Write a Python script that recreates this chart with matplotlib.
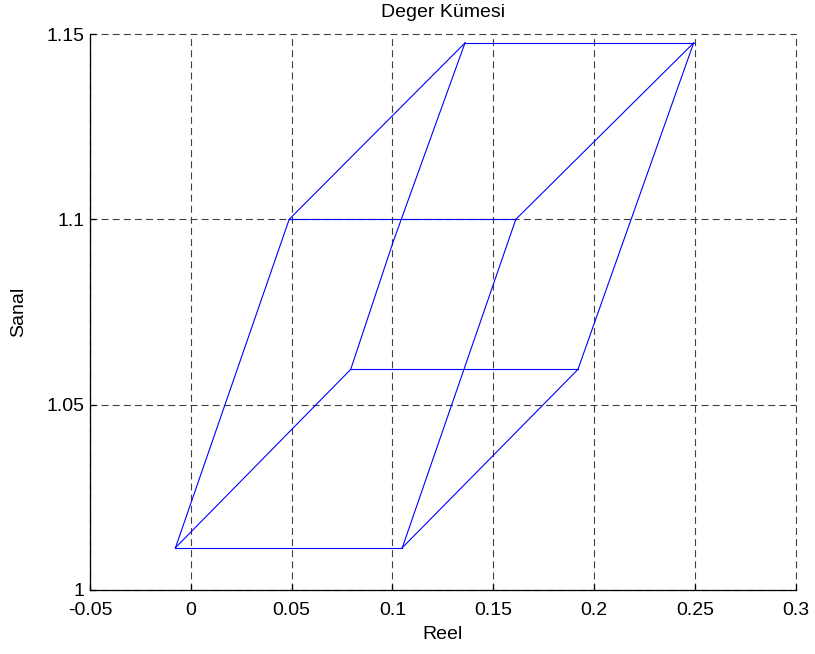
import matplotlib
matplotlib.use("Agg")
import matplotlib.pyplot as plt

plt.rcParams["font.family"] = ["Liberation Sans", "DejaVu Sans"]
plt.rcParams["lines.scale_dashes"] = False

# corner points of the value set
corner_x = {"A": -0.0076, "B": 0.1049, "C": 0.0793, "D": 0.1920,
            "E": 0.0488, "F": 0.1612, "G": 0.1360, "H": 0.2494}
corner_y = {"A": 1.0114, "B": 1.0114, "C": 1.0595, "D": 1.0595,
            "E": 1.1000, "F": 1.1000, "G": 1.1476, "H": 1.1476}

# small bend on the C-G edge
bend_cg_x = 0.1004
bend_cg_y = 1.0940

edges = [("A", "B"), ("C", "D"), ("E", "F"), ("G", "H"),
         ("A", "C"), ("B", "D"), ("E", "G"), ("F", "H"),
         ("A", "E"), ("B", "F"), ("D", "H")]

xticks = [-0.05, 0, 0.05, 0.1, 0.15, 0.2, 0.25, 0.3]
xtick_labels = ["-0.05", "0", "0.05", "0.1", "0.15", "0.2", "0.25", "0.3"]
yticks = [1, 1.05, 1.1, 1.15]
ytick_labels = ["1", "1.05", "1.1", "1.15"]

fig = plt.figure(figsize=(8.15, 6.54), dpi=100)
ax = fig.add_axes([0.1104, 0.0979, 0.8659, 0.8501])

for p, q in edges:
    ax.plot([corner_x[p], corner_x[q]], [corner_y[p], corner_y[q]],
            color="#0000ff", linewidth=0.8)
ax.plot([corner_x["C"], bend_cg_x, corner_x["G"]],
        [corner_y["C"], bend_cg_y, corner_y["G"]],
        color="#0000ff", linewidth=0.8)

ax.set_xlim(-0.05, 0.3)
ax.set_ylim(1, 1.15)
ax.set_xticks(xticks)
ax.set_xticklabels(xtick_labels)
ax.set_yticks(yticks)
ax.set_yticklabels(ytick_labels)

ax.grid(True, color="0.25", linewidth=0.8, linestyle=(0, (5, 3)))
ax.set_axisbelow(True)
for line in ax.get_xgridlines() + ax.get_ygridlines():
    line.set_clip_on(False)
for side in ["top", "right"]:
    ax.spines[side].set_visible(False)
for side in ["left", "bottom"]:
    ax.spines[side].set_linewidth(0.9)

ax.tick_params(axis="both", direction="in", length=4, width=0.9, labelsize=14)
ax.tick_params(axis="x", pad=9)
ax.tick_params(axis="y", pad=4)

ax.set_title("Deger Kümesi", fontsize=14, pad=12)
ax.set_xlabel("Reel", fontsize=14, labelpad=5)
ax.set_ylabel("Sanal", fontsize=14, labelpad=14)

fig.savefig("out.png", dpi=100)
